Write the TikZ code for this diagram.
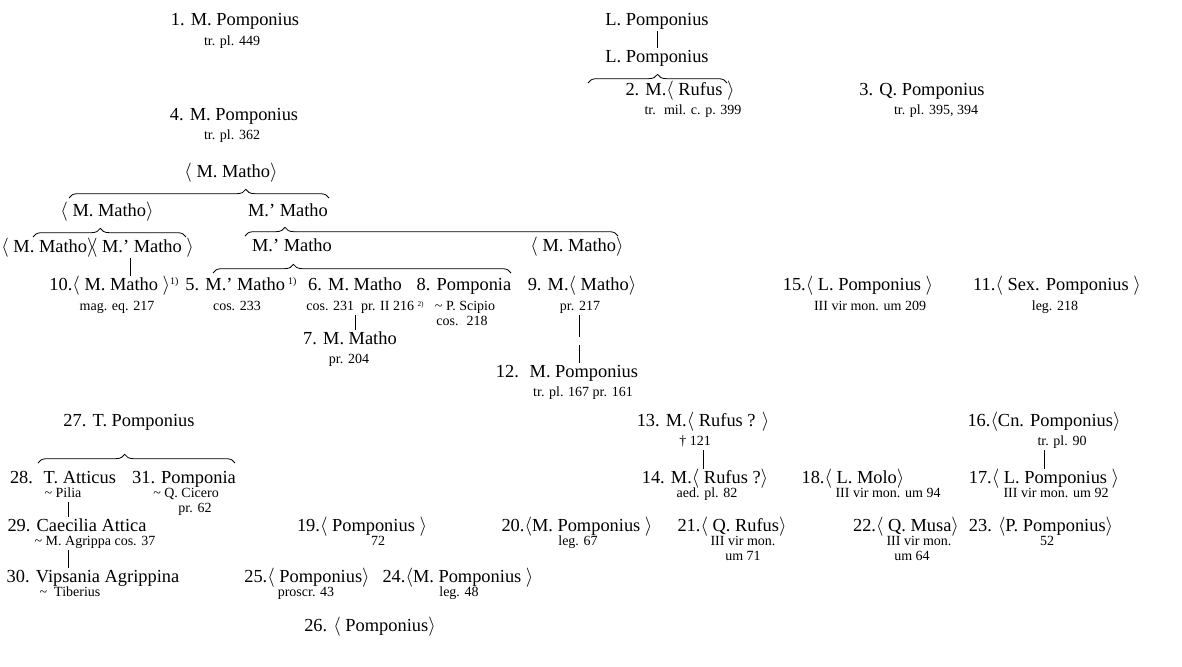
\documentclass[tikz,border=0pt]{standalone}
\usepackage{fontspec}
\setmainfont{Liberation Serif}
\usetikzlibrary{decorations.pathreplacing}
\newcommand\lb{\ensuremath{\langle}}
\newcommand\rb{\ensuremath{\rangle}}
\newcommand\supa[1]{{\fontsize{7.5}{8}\selectfont\raisebox{4.5pt}{#1}}}
\newcommand\supb[1]{{\fontsize{5.5}{6}\selectfont\raisebox{3.5pt}{#1}}}
\newcommand\tl{\textasciitilde}
\begin{document}
\begin{tikzpicture}[x=0.75pt,y=-0.75pt,
  nm/.style={font=\fontsize{13.8}{16}\selectfont, inner sep=1pt, text height=10pt, text depth=3pt},
  sb/.style={font=\fontsize{10.5}{12}\selectfont, inner sep=1pt, text height=7.5pt, text depth=2pt},
  ln/.style={line width=0.6pt},
  bracepath/.style={line width=0.6pt, decorate, decoration={brace, amplitude=6.5pt, aspect=#1}}]
\useasboundingbox (0,0) rectangle (1182,667);
% top row
\node[nm] (n1) at (235,21) {1. M. Pomponius};
\node[sb] (n1s) at (232,42) {tr. pl. 449};
\node[nm] (L1) at (657,21) {L. Pomponius};
\node[nm] (L2) at (657,58) {L. Pomponius};
\node[nm] (n2) at (680,91) {2. M.\lb{} Rufus \rb};
\node[sb] (n2s) at (693,111) {tr.~ mil. c. p. 399};
\node[nm] (n3) at (922,91) {3. Q. Pomponius};
\node[sb] (n3s) at (936,111) {tr. pl. 395, 394};
\node[nm] (n4) at (234,116) {4. M. Pomponius};
\node[sb] (n4s) at (232,136) {tr. pl. 362};
% Matho family
\node[nm] (mA) at (231,173) {\lb{} M. Matho\rb};
\node[nm] (mB) at (107,212) {\lb{} M. Matho\rb};
\node[nm] (mC) at (288,212) {M.’ Matho};
\node[nm] (mD) at (48,248) {\lb{} M. Matho\rb};
\node[nm] (mE) at (142,248) {\lb{} M.’ Matho \rb};
\node[nm] (mF) at (292,247) {M.’ Matho};
\node[nm] (mG) at (577,247) {\lb{} M. Matho\rb};
\node[nm] (n10) at (114,286) {10.\lb{} M. Matho \rb\supa{1)}};
\node[sb] (n10s) at (117,307) {mag. eq. 217};
\node[nm] (n5) at (241,286) {5. M.’ Matho\,\supa{1)}};
\node[sb] (n5s) at (237,307) {cos. 233};
\node[nm] (n6) at (355,286) {6. M. Matho};
\node[sb] (n6s) at (365,307) {cos. 231~ pr. II 216 \supb{2)}};
\node[nm] (n8) at (464,286) {8. Pomponia};
\node[sb] (n8s) at (465,307) {\tl{} P. Scipio};
\node[sb] (n8t) at (462,322) {cos.~ 218};
\node[nm] (n9) at (582,286) {9. M.\lb{} Matho\rb};
\node[sb] (n9s) at (580,307) {pr. 217};
\node[nm] (n7) at (350,340) {7. M. Matho};
\node[sb] (n7s) at (349,360) {pr. 204};
\node[nm] (n12) at (567,373) {12.~ M. Pomponius};
\node[sb] (n12s) at (583,393) {tr. pl. 167 pr. 161};
\node[nm] (n15) at (858,286) {15.\lb{} L. Pomponius \rb};
\node[sb] (n15s) at (870,307) {III vir mon. um 209};
\node[nm] (n11) at (1057,286) {11.\lb{} Sex. Pomponius \rb};
\node[sb] (n11s) at (1055,307) {leg. 218};
% Atticus family
\node[nm] (n27) at (129,422) {27. T. Pomponius};
\node[nm] (n28) at (63,479) {28.~ T. Atticus};
\node[sb] (n28s) at (63,494) {\tl{} Pilia};
\node[nm] (n31) at (184,479) {31. Pomponia};
\node[sb] (n31s) at (186,494) {\tl{} Q. Cicero};
\node[sb] (n31t) at (195,509) {pr. 62};
\node[nm] (n29) at (77,527) {29. Caecilia Attica};
\node[sb] (n29s) at (95,542) {\tl{} M. Agrippa cos. 37};
\node[nm] (n30) at (93,578) {30. Vipsania Agrippina};
\node[sb] (n30s) at (70,593) {\tl{}~ Tiberius};
% others
\node[nm] (n19) at (362,527) {19.\lb{} Pomponius \rb};
\node[sb] (n19s) at (378,542) {72};
\node[nm] (n25) at (307,578) {25.\lb{} Pomponius\rb};
\node[sb] (n25s) at (306,593) {proscr. 43};
\node[nm] (n24) at (458,578) {24.\lb{}M. Pomponius \rb};
\node[sb] (n24s) at (459,593) {leg. 48};
\node[nm] (n26) at (370,627) {26. \lb{} Pomponius\rb};
\node[nm] (n20) at (577,527) {20.\lb{}M. Pomponius \rb};
\node[sb] (n20s) at (578,542) {leg. 67};
\node[nm] (n13) at (703,422) {13. M.\lb{} Rufus ? \rb};
\node[sb] (n13s) at (695,442) {\textdagger{} 121};
\node[nm] (n14) at (705,479) {14. M.\lb{} Rufus ?\rb};
\node[sb] (n14s) at (707,494) {aed. pl. 82};
\node[nm] (n21) at (732,527) {21.\lb{} Q. Rufus\rb};
\node[sb] (n21s) at (743,542) {III vir mon.};
\node[sb] (n21t) at (743,557) {um 71};
\node[nm] (n18) at (853,479) {18.\lb{} L. Molo\rb};
\node[sb] (n18s) at (888,494) {III vir mon. um 94};
\node[nm] (n16) at (1044,422) {16.\lb{}Cn. Pomponius\rb};
\node[sb] (n16s) at (1062,442) {tr. pl. 90};
\node[nm] (n17) at (1044,479) {17.\lb{} L. Pomponius \rb};
\node[sb] (n17s) at (1056,494) {III vir mon. um 92};
\node[nm] (n22) at (906,527) {22.\lb{} Q. Musa\rb};
\node[sb] (n22s) at (919,542) {III vir mon.};
\node[sb] (n22t) at (912,557) {um 64};
\node[nm] (n23) at (1041,527) {23. \lb{}P. Pomponius\rb};
\node[sb] (n23s) at (1047,542) {52};
% helper coordinates
\coordinate (x130) at (130,0);
\coordinate (x68) at (68,0);
\coordinate (g9a) at (579,337);
\coordinate (g9b) at (579,345);
% braces
\coordinate (b1l) at (588,83); \coordinate (b1r) at (727,83);
\coordinate (b2l) at (69,198); \coordinate (b2r) at (329,198);
\coordinate (b3l) at (33,237); \coordinate (b3r) at (186,237);
\coordinate (b4l) at (245,236); \coordinate (b4r) at (618,236);
\coordinate (b5l) at (213,273); \coordinate (b5r) at (511,273);
\coordinate (b6l) at (38,463); \coordinate (b6r) at (235,463);
\draw[bracepath=0.5] (b1l) -- (b1r);
\draw[bracepath=0.68] (b2l) -- (b2r);
\draw[bracepath=0.44] (b3l) -- (b3r);
\draw[bracepath=0.107] (b4l) -- (b4r);
\draw[bracepath=0.27] (b5l) -- (b5r);
\draw[bracepath=0.44] (b6l) -- (b6r);
% connectors
\draw[ln] (L1.south) -- (L2.north);
\draw[ln] (mE.south -| x130) -- (n10.north -| x130);
\draw[ln] (n6s.south -| n6.south) -- (n7.north -| n6.south);
\draw[ln] (n9s.south -| g9a) -- (g9a);
\draw[ln] (g9b) -- (n12.north -| g9b);
\draw[ln] (n13s.south -| n13.south) -- (n14.north -| n13.south);
\draw[ln] (n16s.south -| n16.south) -- (n17.north -| n16.south);
\draw[ln] (n28s.south -| x68) -- (n29.north -| x68);
\draw[ln] (n29s.south -| x68) -- (n30.north -| x68);
\end{tikzpicture}
\end{document}
